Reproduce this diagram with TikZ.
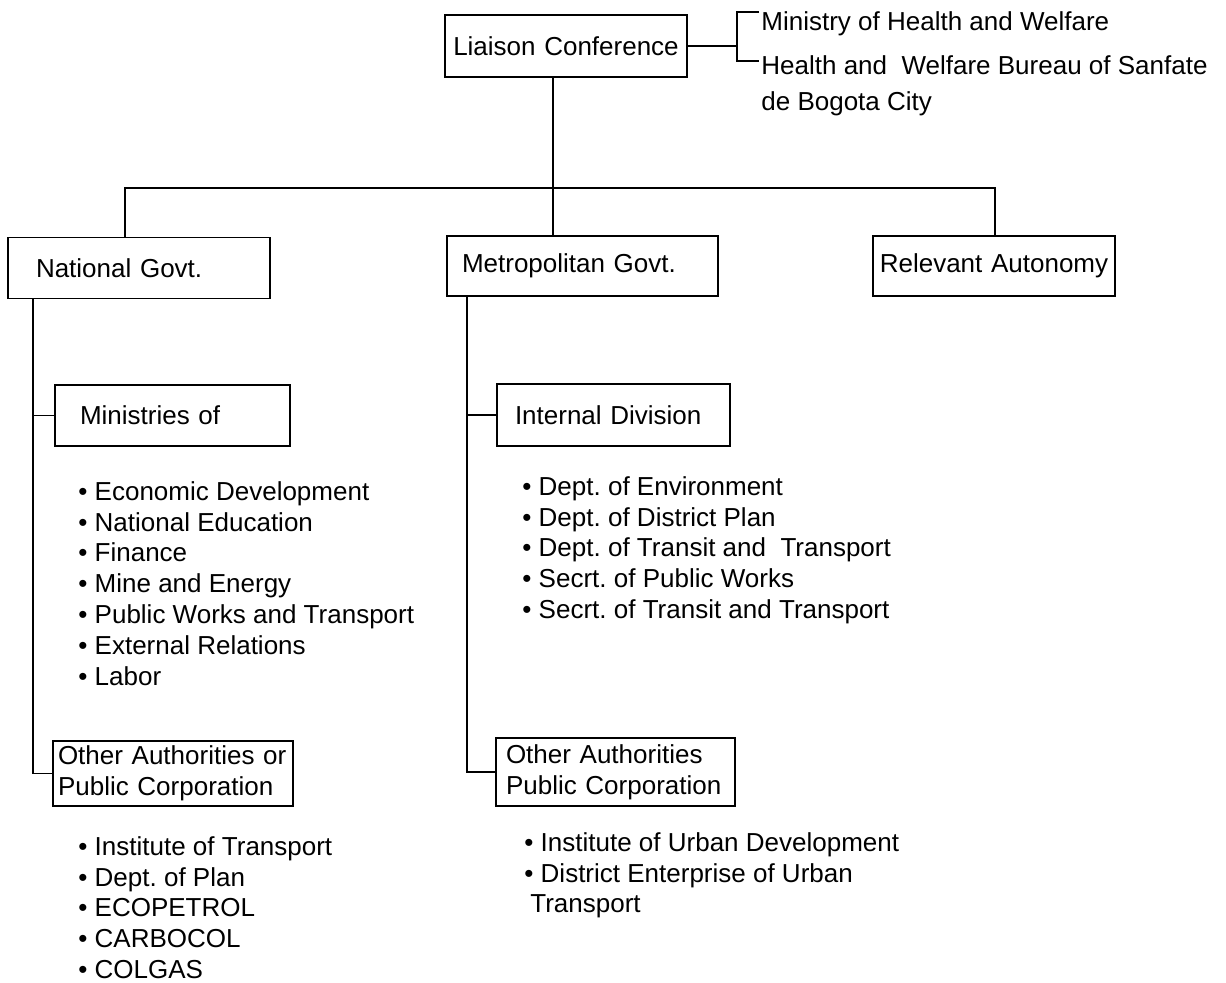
\documentclass[tikz,border=0pt]{standalone}
\usepackage{fontspec}
\setmainfont{Liberation Sans}
\usetikzlibrary{positioning}
\newcommand{\orgfont}{\fontsize{13}{15.4}\selectfont\frenchspacing}
\newcommand{\itm}{\textbullet\ }

\begin{document}
\begin{tikzpicture}[x=0.5pt,y=-0.5pt]
	\useasboundingbox (0,0) rectangle (1226,983);
	\begin{scope}[every node/.style={draw,line width=0.9pt,rectangle,font=\orgfont,inner ysep=0pt,align=left}]
		\node[text width=116pt,align=center,inner xsep=2.5pt,minimum height=31pt] (liaison) at (566,46) {Liaison Conference};
		\node[text width=103pt,inner xsep=14pt,minimum height=30.5pt] (natgov) at (139,268) {National Govt.};
		\node[text width=120.5pt,inner xsep=7.5pt,minimum height=30pt] (metgov) at (582.5,266) {Metropolitan Govt.};
		\node[text width=117pt,align=center,inner xsep=2pt,minimum height=30pt] (relaut) at (994,266) {Relevant Autonomy};
		\node[text width=92.5pt,inner xsep=12.5pt,minimum height=30.5pt] (minis) at (172.5,415.5) {Ministries of};
		\node[text width=98.5pt,inner xsep=9pt,minimum height=31pt] (intdiv) at (613.5,415) {Internal Division};
		\node[text width=115pt,inner xsep=2.5pt,minimum height=32.5pt] (natoth) at (173,773.5) {Other Authorities or\\Public Corporation};
		\node[text width=109.5pt,inner xsep=5pt,minimum height=34pt] (metoth) at (615.5,772) {Other Authorities\\Public Corporation};
	\end{scope}
	\begin{scope}[every node/.style={font=\orgfont,inner sep=0pt,align=left}]
		\node[anchor=base west] (minhw) at (761,31) {Ministry of Health and Welfare};
		\node[anchor=north west] (hwbur) at (761,55) {Health and~ Welfare Bureau of Sanfate\\[2.6pt]de Bogota City};
		\node[anchor=north west] (natlist) at (78,481) {\itm Economic Development\\\itm National Education\\\itm Finance\\\itm Mine and Energy\\\itm Public Works and Transport\\\itm External Relations\\\itm Labor};
		\node[anchor=north west] (natothlist) at (78,836) {\itm Institute of Transport\\\itm Dept. of Plan\\\itm ECOPETROL\\\itm CARBOCOL\\\itm COLGAS};
		\node[anchor=north west] (metlist) at (522,476) {\itm Dept. of Environment\\\itm Dept. of District Plan\\\itm Dept. of Transit and~ Transport\\\itm Secrt. of Public Works\\\itm Secrt. of Transit and Transport};
		\node[anchor=north west] (metothlist) at (524,832) {\itm Institute of Urban Development\\\itm District Enterprise of Urban\\\hspace*{3pt}Transport};
	\end{scope}
	\begin{scope}[line width=0.9pt]
		\coordinate (brk) at (737,46);
		\coordinate (hub) at (553,188);
		\coordinate (natjoin) at (125,188);
		\coordinate (reljoin) at (995,188);
		\coordinate (natspine) at (33,0);
		\coordinate (metspine) at (467,0);
		% liaison links
		\draw (liaison.east) -- (brk);
		\draw ([xshift=-1pt]minhw.north west) -| (brk) |- ([xshift=-1pt,yshift=-3pt]hwbur.north west);
		\draw (liaison.south -| hub) -- (metgov.north -| hub);
		\draw (natgov.north -| natjoin) -- (natjoin) -- (reljoin) -- (relaut.north -| reljoin);
		% national branch
		\draw (natgov.south -| natspine) |- (natoth.west);
		\draw (minis.west -| natspine) -- (minis.west);
		% metropolitan branch
		\draw (metgov.south -| metspine) |- (metoth.west);
		\draw (intdiv.west -| metspine) -- (intdiv.west);
	\end{scope}
\end{tikzpicture}
\end{document}
